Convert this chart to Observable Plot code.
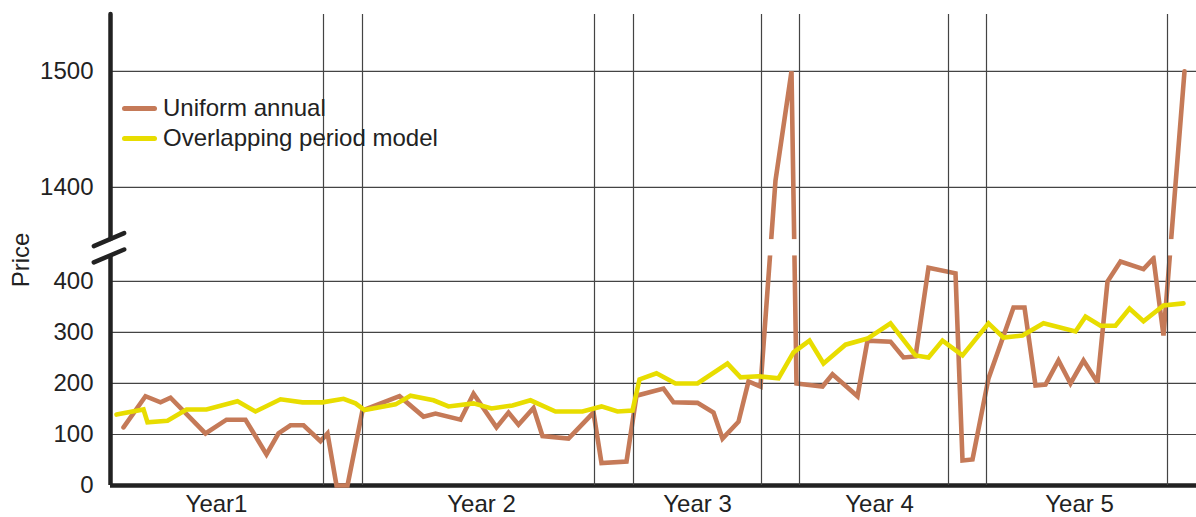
<!DOCTYPE html>
<html><head><meta charset="utf-8">
<script src="https://cdn.jsdelivr.net/npm/d3@7"></script>
<script src="https://cdn.jsdelivr.net/npm/@observablehq/plot@0.6"></script>
<style>
body{margin:0;background:#fff;}
#wrap{position:relative;width:1196px;height:517px;font-family:"Liberation Sans",Arial,sans-serif;color:#222;}
#legend{position:absolute;left:122px;top:93px;font-size:24px;}
.row{display:flex;align-items:center;height:30px;white-space:nowrap;}
.sw{width:35px;height:5px;border-radius:3px;margin-right:6px;}
</style></head><body>
<div id="wrap"><div id="chart"></div><div id="legend"></div></div>
<script>
// ---- data ----
const seriesNames = ["Uniform annual", "Overlapping period model"];
const uniformT = [13,35,50,60,95,116,135,156,168,180,193,210,217,226,237,252,289,313,325,350,363,386,398,408,423,432,458,483,491,516,526,553,563,587,603,612,628,638,650,665,681,686,712,722,747,757,780,793,805,818,845,852,862,878,903,914,925,935,948,960,973,987,997,1010,1033,1043,1053,1074];
const uniformV = [114,175,163,172,102,129,129,61,102,118,118,87,102,0,0,147,175,135,141,129,180,114,143,119,152,97,92,143,44,47,176,190,163,162,143,92,125,204,194,1406,1500,200,194,218,175,284,282,251,253,427,416,49,51,210,349,349,196,198,245,200,245,202,400,439,424,445,294,1500];
const overlapT = [6,33,37,57,76,96,127,145,170,192,212,233,245,254,285,300,323,338,363,381,402,420,445,472,491,507,522,529,546,565,587,617,630,648,668,683,699,713,735,757,780,805,818,832,852,878,893,912,933,965,975,990,1005,1019,1033,1053,1073];
const overlapV = [139,149,124,127,149,149,165,145,169,163,163,170,161,148,159,176,167,155,161,151,157,167,145,145,155,145,147,208,220,200,200,239,212,214,210,261,284,239,276,288,318,255,251,284,255,318,290,294,318,302,331,313,313,347,322,353,357];
const yearLabels = ["Year1", "Year 2", "Year 3", "Year 4", "Year 5"];
const yearLabelT = [106, 371, 587, 769, 969];
const dividerT = [213, 252, 484, 523, 651, 689, 838, 876, 1057];
const yTickValues = [0, 100, 200, 300, 400, 1400, 1500];
const yGridValues = [100, 200, 300, 400, 1400, 1500];
const tDomain = [0, 1086];
const BREAK_LOW = 450, BREAK_HIGH = 1355, Y_TOP = 1549;

// ---- styles ----
const colors = ["#C57A58", "#E8DD00"];
const ink = "#222";
const gridColor = "#444";
const fs = 24;

// broken-axis display transform
function disp(v) {
  if (v <= BREAK_LOW) return v * 0.51;
  if (v >= BREAK_HIGH) return 298 + (v - 1400) * 1.16;
  const a = BREAK_LOW * 0.51, b = 298 + (BREAK_HIGH - 1400) * 1.16;
  return a + (v - BREAK_LOW) / (BREAK_HIGH - BREAK_LOW) * (b - a);
}

const uniform = uniformT.map((t, i) => ({t, v: uniformV[i]}));
const overlap = overlapT.map((t, i) => ({t, v: overlapV[i]}));

const lineStyle = {strokeWidth: 4.6, strokeLinejoin: "miter", strokeMiterlimit: 3, strokeLinecap: "round"};

const chart = Plot.plot({
  width: 1196, height: 517,
  marginLeft: 110, marginRight: 0, marginTop: 14, marginBottom: 32,
  style: {fontFamily: '"Liberation Sans", Arial, sans-serif', fontSize: fs + "px", color: ink, background: "white", overflow: "visible"},
  x: {domain: tDomain, axis: null},
  y: {domain: [0, disp(Y_TOP)], axis: null},
  marks: [
    Plot.ruleY(yGridValues, {y: v => disp(v), stroke: gridColor, strokeWidth: 1.2}),
    Plot.ruleY([0], {y: v => disp(v), stroke: ink, strokeWidth: 4.5}),
    Plot.line(uniform, {x: "t", y: d => disp(d.v), stroke: colors[0], ...lineStyle}),
    Plot.rect([0], {x1: () => tDomain[0], x2: () => tDomain[1], y1: () => disp(BREAK_LOW), y2: () => disp(BREAK_HIGH), fill: "white"}),
    Plot.ruleX(dividerT, {x: d => d, stroke: gridColor, strokeWidth: 1.2}),
    Plot.line(overlap, {x: "t", y: d => disp(d.v), stroke: colors[1], ...lineStyle}),
    Plot.ruleX([tDomain[0]], {y1: () => 0, y2: () => disp(BREAK_LOW), stroke: ink, strokeWidth: 4.5}),
    Plot.ruleX([tDomain[0]], {y1: () => disp(BREAK_HIGH), y2: () => disp(Y_TOP), stroke: ink, strokeWidth: 4.5, strokeLinecap: "round"}),
    Plot.vector([BREAK_LOW, BREAK_HIGH], {x: () => tDomain[0], y: v => disp(v), rotate: 67, length: 33, anchor: "middle", dx: -1.5, stroke: ink, strokeWidth: 4.5, strokeLinecap: "round",
      shape: {draw(ctx, l) { ctx.moveTo(0, 0); ctx.lineTo(0, -l); }}}),
    Plot.text(yTickValues, {x: () => tDomain[0], y: v => disp(v), text: v => String(v), textAnchor: "end", lineAnchor: "middle", dx: -17, fill: ink, fontSize: fs}),
    Plot.text(yearLabels, {x: (d, i) => yearLabelT[i], frameAnchor: "bottom", lineAnchor: "middle", textAnchor: "middle", dy: 19, text: d => d, fill: ink, fontSize: fs}),
    Plot.text(["Price"], {frameAnchor: "left", textAnchor: "middle", lineAnchor: "middle", text: d => d, rotate: -90, dx: -89, dy: 10, fill: ink, fontSize: fs})
  ]
});
document.getElementById("chart").append(chart);

const legend = document.getElementById("legend");
seriesNames.forEach((name, i) => {
  const row = document.createElement("div");
  row.className = "row";
  const sw = document.createElement("div");
  sw.className = "sw";
  sw.style.background = colors[i];
  const label = document.createElement("span");
  label.textContent = name;
  row.append(sw, label);
  legend.append(row);
});
</script>
</body></html>
